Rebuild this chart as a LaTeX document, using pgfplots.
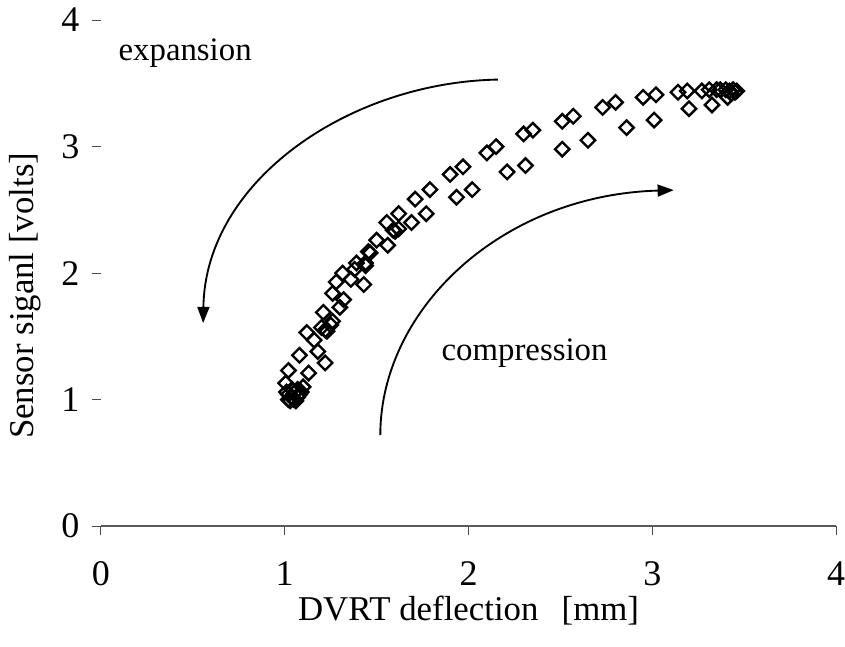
\documentclass[border=0pt]{standalone}
\usepackage{fontspec}
\setmainfont{Liberation Serif}
\usepackage{pgfplots}
\pgfplotsset{compat=1.18}
\usetikzlibrary{arrows.meta,calc}

% DVRT deflection vs sensor signal (expansion + compression loops)
\pgfplotstableread{
x     y
1.02  1.00
1.03  0.99
1.05  1.00
1.06  0.99
1.04  1.02
1.07  1.02
1.08  1.04
1.02  1.04
1.05  1.05
1.09  1.06
1.01  1.06
1.04  1.08
1.07  1.08
1.005 1.13
1.10  1.10
1.02  1.23
1.13  1.21
1.08  1.35
1.18  1.38
1.22  1.29
1.12  1.53
1.16  1.47
1.25  1.59
1.22  1.55
1.23  1.54
1.20  1.57
1.26  1.62
1.21  1.69
1.30  1.73
1.32  1.79
1.26  1.84
1.43  1.91
1.36  1.95
1.28  1.93
1.315 2.00
1.38  2.03
1.44  2.06
1.465 2.16
1.39  2.08
1.44  2.08
1.455 2.17
1.50  2.26
1.56  2.22
1.555 2.40
1.59  2.34
1.60  2.33
1.62  2.35
1.62  2.47
1.69  2.40
1.71  2.585
1.77  2.47
1.79  2.66
1.935 2.60
1.90  2.78
1.97  2.84
2.02  2.66
2.10  2.95
2.15  3.00
2.21  2.80
2.30  3.10
2.31  2.85
2.35  3.13
2.51  3.20
2.51  2.98
2.57  3.24
2.65  3.05
2.73  3.31
2.80  3.35
2.86  3.15
2.95  3.39
3.01  3.21
3.02  3.41
3.14  3.43
3.19  3.44
3.20  3.30
3.27  3.44
3.31  3.45
3.325 3.33
3.35  3.45
3.37  3.45
3.40  3.45
3.41  3.39
3.42  3.44
3.43  3.42
3.44  3.45
3.45  3.43
3.46  3.44
}\dvrtdata

\begin{document}
\begin{tikzpicture}
\begin{axis}[
  scale only axis,
  width=295.8pt, height=203.6pt,
  xmin=0, xmax=4, ymin=0, ymax=4,
  xtick={0,1,2,3,4}, ytick={0,1,2,3,4},
  axis x line*=bottom, axis y line*=left,
  x axis line style={black!65, line width=0.5pt},
  y axis line style={draw=none},
  tick align=outside, major tick length=3.5pt,
  tick style={black!70, line width=0.4pt},
  /pgf/number format/assume math mode=true,
  tick label style={font=\fontsize{14.5}{16}\selectfont, inner sep=1pt},
  xticklabel style={yshift=-9.5pt},
  yticklabel style={xshift=-4pt},
  every axis x label/.style={at={(axis description cs:0.5,-0.168)}, anchor=center},
  every axis y label/.style={at={(axis description cs:-0.103,0.455)}, anchor=center, rotate=90},
  label style={font=\fontsize{14}{16}\selectfont, inner sep=1pt},
  xlabel={DVRT deflection\ \ \,[mm]},
  ylabel={Sensor siganl [volts]},
  clip=false,
]
\addplot[only marks, mark=square, mark size=2.05pt,
  mark options={rotate=45, line width=0.95pt, fill=white, draw=black}]
  table[x=x, y=y] {\dvrtdata};

% annotation arrows
\draw[line width=0.75pt, -{Triangle[length=6.5pt, width=4.8pt]}]
  (axis cs:2.16,3.53) .. controls (axis cs:1.357,3.51) and (axis cs:0.567,2.735)
  .. (axis cs:0.556,1.605);
\draw[line width=0.75pt, -{Triangle[length=6.5pt, width=4.8pt]}]
  (axis cs:1.52,0.72) .. controls (axis cs:1.52,1.708) and (axis cs:2.174,2.617)
  .. (axis cs:3.117,2.656);

\node[font=\fontsize{13.2}{16}\selectfont] at (axis cs:0.458,3.74) {expansion};
\node[font=\fontsize{13.2}{16}\selectfont] at (axis cs:2.305,1.368) {compression};
\coordinate (o) at (rel axis cs:0,0);
\end{axis}
\pgfresetboundingbox
\path ($(o)+(-40.64pt,-48.3pt)$) rectangle ($(o)+(299.4pt,211.7pt)$);
\end{tikzpicture}
\end{document}
